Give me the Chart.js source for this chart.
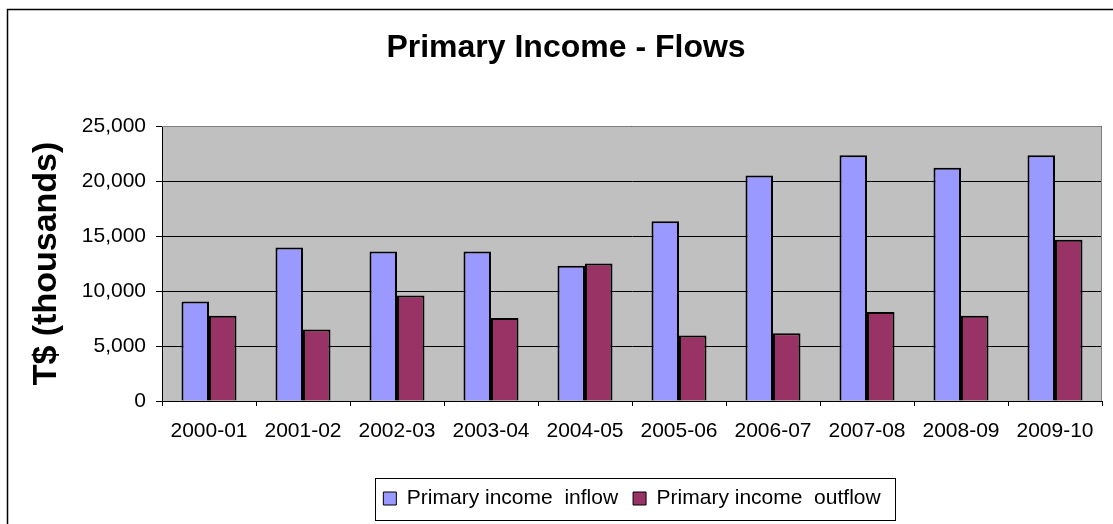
<!DOCTYPE html>
<html>
<head>
<meta charset="utf-8">
<title>Primary Income - Flows</title>
<script src="https://cdn.jsdelivr.net/npm/chart.js@4.4.1/dist/chart.umd.min.js"></script>
<style>
  html, body { margin: 0; padding: 0; background: #fff; }
  #wrap { position: relative; width: 1113px; height: 524px; }
</style>
</head>
<body>
<div id="wrap"><canvas id="chart" width="1113" height="524"></canvas></div>
<script>
// financial years on the x axis
var years = ["2000-01", "2001-02", "2002-03", "2003-04", "2004-05",
             "2005-06", "2006-07", "2007-08", "2008-09", "2009-10"];

// T$ thousands
var inflow  = [9050, 13950, 13600, 13600, 12300, 16350, 20500, 22350, 21200, 22350];
var outflow = [7750, 6500, 9600, 7550, 12500, 5950, 6150, 8100, 7750, 14650];

var yTicks = [0, 5000, 10000, 15000, 20000, 25000];

var FONT = "Arial, 'Liberation Sans', sans-serif";

// grey plot area + outer chart frame
var backdrop = {
  id: "backdrop",
  beforeDraw: function (chart) {
    var c = chart.ctx, a = chart.chartArea;
    c.save();
    c.fillStyle = "#fff";
    c.fillRect(0, 0, chart.width, chart.height);
    c.strokeStyle = "#000";
    c.lineWidth = 1.5;
    c.strokeRect(7.5, 9.5, 1300, 700);
    c.fillStyle = "#c0c0c0";
    c.fillRect(a.left, a.top, a.right - a.left, a.bottom - a.top);
    c.restore();
  },
  afterDatasetsDraw: function (chart) {
    var c = chart.ctx, a = chart.chartArea;
    c.save();
    c.strokeStyle = "#808080";
    c.lineWidth = 1;
    c.beginPath();
    c.moveTo(a.left, a.top + 0.5);
    c.lineTo(a.right - 0.5, a.top + 0.5);
    c.lineTo(a.right - 0.5, a.bottom);
    c.stroke();
    c.restore();
  }
};

// centre the legend under the plot area and box it in
var legendFrame = {
  id: "legendFrame",
  afterLayout: function (chart) {
    var lg = chart.legend, a = chart.chartArea;
    var dx = (a.left + a.right) / 2 - (lg.left + lg.right) / 2;
    lg.left += dx;
    lg.right += dx;
    (lg.legendHitBoxes || []).forEach(function (b) { b.left += dx; });
  },
  afterDraw: function (chart) {
    var boxes = chart.legend.legendHitBoxes;
    if (!boxes || !boxes.length) return;
    var l = boxes[0].left, r = 0, mid = boxes[0].top + boxes[0].height / 2;
    boxes.forEach(function (b) { r = Math.max(r, b.left + b.width); });
    var c = chart.ctx;
    c.save();
    c.strokeStyle = "#000";
    c.lineWidth = 1;
    c.strokeRect(Math.round(l - 8) + 0.5, Math.round(mid - 21) + 0.5,
                 Math.round(r + 15 - (l - 8)), 42);
    c.restore();
  }
};

new Chart(document.getElementById("chart"), {
  type: "bar",
  data: {
    labels: years,
    datasets: [{
      label: "Primary income  inflow",
      data: inflow,
      backgroundColor: "#9999ff",
      borderColor: "#000",
      borderWidth: 2,
      categoryPercentage: 0.585,
      barPercentage: 1.0
    }, {
      label: "Primary income  outflow",
      data: outflow,
      backgroundColor: "#993366",
      borderColor: "#000",
      borderWidth: 2,
      categoryPercentage: 0.585,
      barPercentage: 1.0
    }]
  },
  options: {
    responsive: false,
    animation: false,
    devicePixelRatio: 1,
    layout: { padding: { left: 30, right: 11, top: 0, bottom: 5 } },
    scales: {
      x: {
        grid: { drawOnChartArea: false, color: "#000", tickLength: 5 },
        border: { color: "#000", width: 1 },
        ticks: { color: "#000", font: { family: FONT, size: 21 }, padding: 13,
                 maxRotation: 0, autoSkip: false },
        afterFit: function (s) { s.height = 72; }
      },
      y: {
        min: 0,
        max: 25000,
        afterBuildTicks: function (s) { s.ticks = yTicks.map(function (v) { return { value: v }; }); },
        grid: { color: "#000", tickLength: 6 },
        border: { color: "#000", width: 1 },
        ticks: {
          color: "#000",
          font: { family: FONT, size: 21 },
          padding: 10,
          callback: function (v) { return v.toLocaleString("en-US"); }
        },
        title: {
          display: true,
          text: "T$ (thousands)",
          color: "#000",
          font: { family: FONT, size: 34, weight: "bold", lineHeight: 1 },
          padding: { top: 0, bottom: 0 }
        },
        afterFit: function (s) { s.width = 132; }
      }
    },
    plugins: {
      title: {
        display: true,
        text: "Primary Income - Flows",
        color: "#000",
        font: { family: FONT, size: 32, weight: "bold" },
        padding: { top: 29, bottom: 58.6 }
      },
      legend: {
        position: "bottom",
        labels: {
          color: "#000",
          font: { family: FONT, size: 21 },
          boxWidth: 13,
          boxHeight: 13,
          padding: 15,
          generateLabels: function (chart) {
            var items = Chart.defaults.plugins.legend.labels.generateLabels(chart);
            items.forEach(function (it) { it.lineWidth = 1; });
            return items;
          }
        }
      },
      tooltip: { enabled: false }
    }
  },
  plugins: [backdrop, legendFrame]
});
</script>
</body>
</html>
